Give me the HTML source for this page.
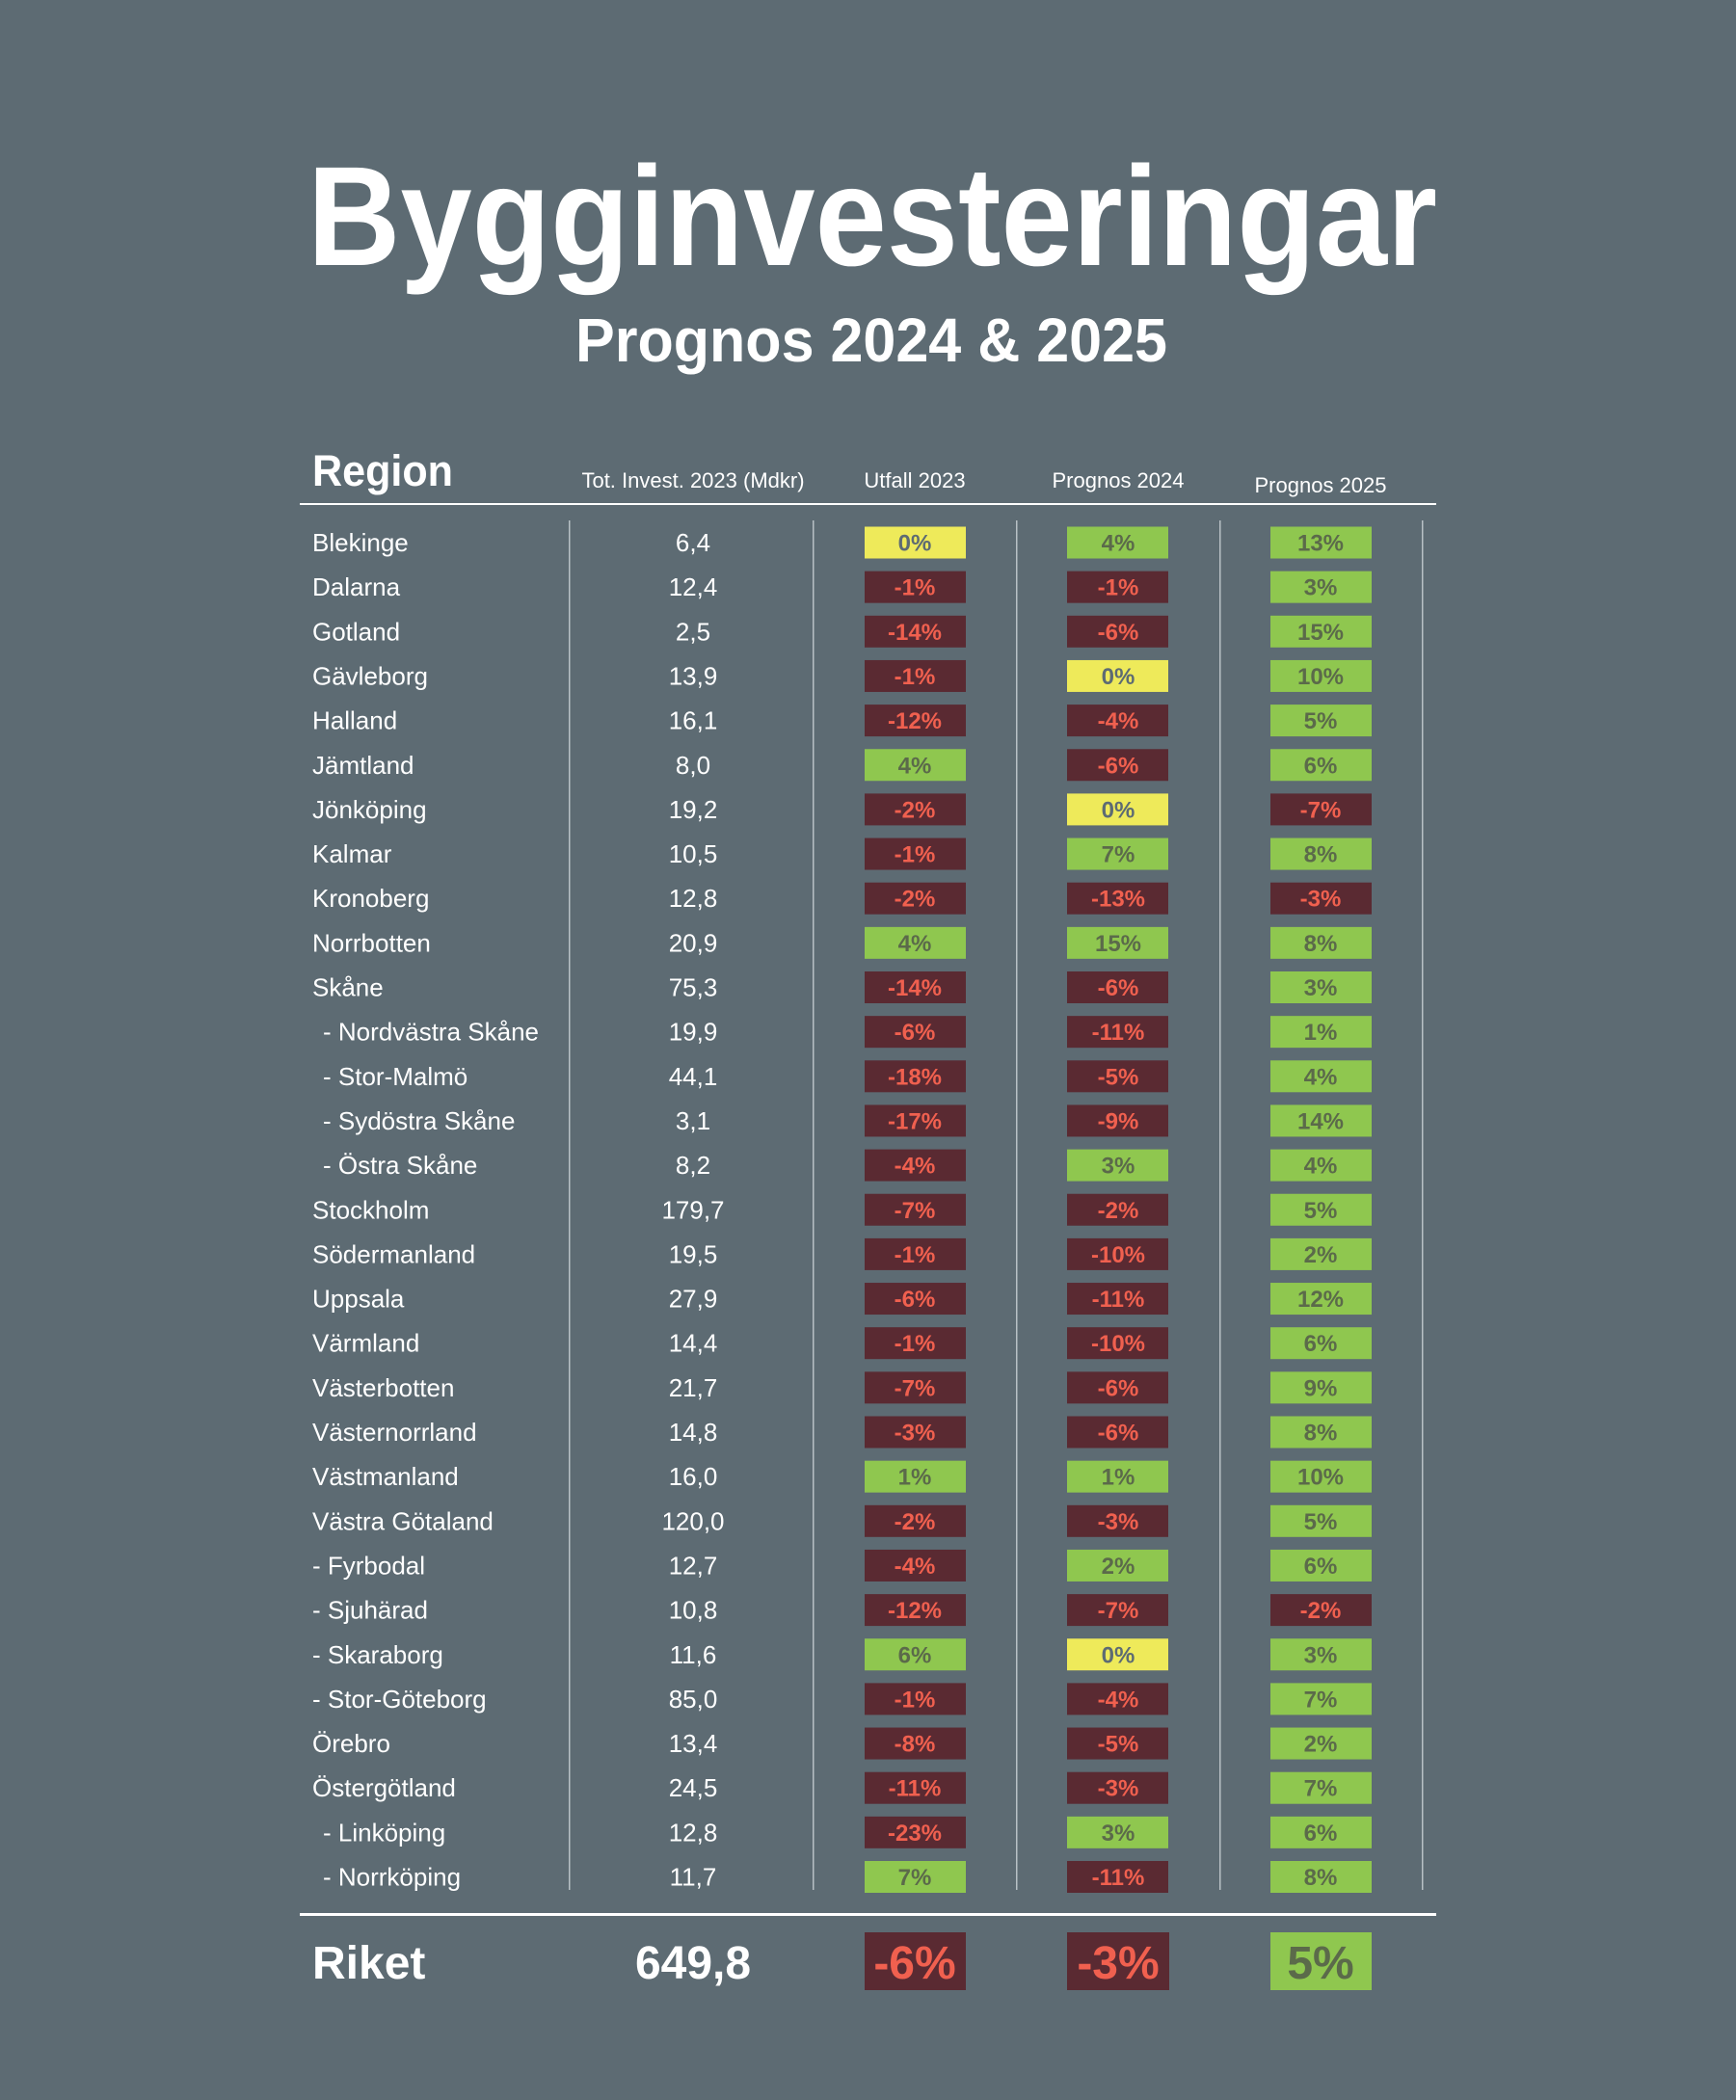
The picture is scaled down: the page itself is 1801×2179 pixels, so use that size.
<!DOCTYPE html>
<html><head><meta charset="utf-8"><style>html,body{margin:0;padding:0;background:#5d6b73}svg{display:block}
.l{fill:#fff;font-size:26px}.v{fill:#fff;font-size:26px;text-anchor:middle}
.P{fill:#8fc74f}.Z{fill:#eeea5a}.N{fill:#5a2a32}
.tp,.tz,.tn{font-size:24px;font-weight:bold;text-anchor:middle}.tp{fill:#5b6a4a}.tz{fill:#5d6b73}.tn{fill:#f0604f}
</style></head>
<body>
<svg width="1801" height="2179" viewBox="0 0 1801 2179" xmlns="http://www.w3.org/2000/svg" font-family="Liberation Sans, sans-serif">
<rect width="1801" height="2179" fill="#5d6b73"/>
<text x="319" y="275" font-size="147" font-weight="bold" fill="#fff" textLength="1172" lengthAdjust="spacingAndGlyphs">Bygginvesteringar</text>
<text x="597" y="375" font-size="64" font-weight="bold" fill="#fff" textLength="614" lengthAdjust="spacingAndGlyphs">Prognos 2024 &amp; 2025</text>
<text x="324" y="504" font-size="45" font-weight="bold" fill="#fff" textLength="146" lengthAdjust="spacingAndGlyphs">Region</text>
<g font-size="22" fill="#fff" text-anchor="middle">
<text x="719" y="506">Tot. Invest. 2023 (Mdkr)</text>
<text x="949" y="506">Utfall 2023</text>
<text x="1160" y="506">Prognos 2024</text>
<text x="1370" y="511">Prognos 2025</text>
</g>
<rect x="311" y="522" width="1179" height="2" fill="#fff"/>
<rect x="311" y="1985" width="1179" height="3" fill="#fff"/>
<g fill="#b8c0c5">
<rect x="590" y="540" width="1.5" height="1421"/>
<rect x="843" y="540" width="1.5" height="1421"/>
<rect x="1054" y="540" width="1.5" height="1421"/>
<rect x="1265" y="540" width="1.5" height="1421"/>
<rect x="1475" y="540" width="1.5" height="1421"/>
</g>

<g transform="translate(0,563)"><text class="l" x="324" y="9">Blekinge</text><text class="v" x="719" y="9">6,4</text><rect class="Z" x="897" y="-16.5" width="105" height="33"/><text class="tz" x="949" y="8.5">0%</text><rect class="P" x="1107" y="-16.5" width="105" height="33"/><text class="tp" x="1160" y="8.5">4%</text><rect class="P" x="1318" y="-16.5" width="105" height="33"/><text class="tp" x="1370" y="8.5">13%</text></g>
<g transform="translate(0,609.15)"><text class="l" x="324" y="9">Dalarna</text><text class="v" x="719" y="9">12,4</text><rect class="N" x="897" y="-16.5" width="105" height="33"/><text class="tn" x="949" y="8.5">-1%</text><rect class="N" x="1107" y="-16.5" width="105" height="33"/><text class="tn" x="1160" y="8.5">-1%</text><rect class="P" x="1318" y="-16.5" width="105" height="33"/><text class="tp" x="1370" y="8.5">3%</text></g>
<g transform="translate(0,655.3)"><text class="l" x="324" y="9">Gotland</text><text class="v" x="719" y="9">2,5</text><rect class="N" x="897" y="-16.5" width="105" height="33"/><text class="tn" x="949" y="8.5">-14%</text><rect class="N" x="1107" y="-16.5" width="105" height="33"/><text class="tn" x="1160" y="8.5">-6%</text><rect class="P" x="1318" y="-16.5" width="105" height="33"/><text class="tp" x="1370" y="8.5">15%</text></g>
<g transform="translate(0,701.45)"><text class="l" x="324" y="9">Gävleborg</text><text class="v" x="719" y="9">13,9</text><rect class="N" x="897" y="-16.5" width="105" height="33"/><text class="tn" x="949" y="8.5">-1%</text><rect class="Z" x="1107" y="-16.5" width="105" height="33"/><text class="tz" x="1160" y="8.5">0%</text><rect class="P" x="1318" y="-16.5" width="105" height="33"/><text class="tp" x="1370" y="8.5">10%</text></g>
<g transform="translate(0,747.6)"><text class="l" x="324" y="9">Halland</text><text class="v" x="719" y="9">16,1</text><rect class="N" x="897" y="-16.5" width="105" height="33"/><text class="tn" x="949" y="8.5">-12%</text><rect class="N" x="1107" y="-16.5" width="105" height="33"/><text class="tn" x="1160" y="8.5">-4%</text><rect class="P" x="1318" y="-16.5" width="105" height="33"/><text class="tp" x="1370" y="8.5">5%</text></g>
<g transform="translate(0,793.75)"><text class="l" x="324" y="9">Jämtland</text><text class="v" x="719" y="9">8,0</text><rect class="P" x="897" y="-16.5" width="105" height="33"/><text class="tp" x="949" y="8.5">4%</text><rect class="N" x="1107" y="-16.5" width="105" height="33"/><text class="tn" x="1160" y="8.5">-6%</text><rect class="P" x="1318" y="-16.5" width="105" height="33"/><text class="tp" x="1370" y="8.5">6%</text></g>
<g transform="translate(0,839.9)"><text class="l" x="324" y="9">Jönköping</text><text class="v" x="719" y="9">19,2</text><rect class="N" x="897" y="-16.5" width="105" height="33"/><text class="tn" x="949" y="8.5">-2%</text><rect class="Z" x="1107" y="-16.5" width="105" height="33"/><text class="tz" x="1160" y="8.5">0%</text><rect class="N" x="1318" y="-16.5" width="105" height="33"/><text class="tn" x="1370" y="8.5">-7%</text></g>
<g transform="translate(0,886.05)"><text class="l" x="324" y="9">Kalmar</text><text class="v" x="719" y="9">10,5</text><rect class="N" x="897" y="-16.5" width="105" height="33"/><text class="tn" x="949" y="8.5">-1%</text><rect class="P" x="1107" y="-16.5" width="105" height="33"/><text class="tp" x="1160" y="8.5">7%</text><rect class="P" x="1318" y="-16.5" width="105" height="33"/><text class="tp" x="1370" y="8.5">8%</text></g>
<g transform="translate(0,932.2)"><text class="l" x="324" y="9">Kronoberg</text><text class="v" x="719" y="9">12,8</text><rect class="N" x="897" y="-16.5" width="105" height="33"/><text class="tn" x="949" y="8.5">-2%</text><rect class="N" x="1107" y="-16.5" width="105" height="33"/><text class="tn" x="1160" y="8.5">-13%</text><rect class="N" x="1318" y="-16.5" width="105" height="33"/><text class="tn" x="1370" y="8.5">-3%</text></g>
<g transform="translate(0,978.35)"><text class="l" x="324" y="9">Norrbotten</text><text class="v" x="719" y="9">20,9</text><rect class="P" x="897" y="-16.5" width="105" height="33"/><text class="tp" x="949" y="8.5">4%</text><rect class="P" x="1107" y="-16.5" width="105" height="33"/><text class="tp" x="1160" y="8.5">15%</text><rect class="P" x="1318" y="-16.5" width="105" height="33"/><text class="tp" x="1370" y="8.5">8%</text></g>
<g transform="translate(0,1024.5)"><text class="l" x="324" y="9">Skåne</text><text class="v" x="719" y="9">75,3</text><rect class="N" x="897" y="-16.5" width="105" height="33"/><text class="tn" x="949" y="8.5">-14%</text><rect class="N" x="1107" y="-16.5" width="105" height="33"/><text class="tn" x="1160" y="8.5">-6%</text><rect class="P" x="1318" y="-16.5" width="105" height="33"/><text class="tp" x="1370" y="8.5">3%</text></g>
<g transform="translate(0,1070.65)"><text class="l" x="335" y="9">- Nordvästra Skåne</text><text class="v" x="719" y="9">19,9</text><rect class="N" x="897" y="-16.5" width="105" height="33"/><text class="tn" x="949" y="8.5">-6%</text><rect class="N" x="1107" y="-16.5" width="105" height="33"/><text class="tn" x="1160" y="8.5">-11%</text><rect class="P" x="1318" y="-16.5" width="105" height="33"/><text class="tp" x="1370" y="8.5">1%</text></g>
<g transform="translate(0,1116.8)"><text class="l" x="335" y="9">- Stor-Malmö</text><text class="v" x="719" y="9">44,1</text><rect class="N" x="897" y="-16.5" width="105" height="33"/><text class="tn" x="949" y="8.5">-18%</text><rect class="N" x="1107" y="-16.5" width="105" height="33"/><text class="tn" x="1160" y="8.5">-5%</text><rect class="P" x="1318" y="-16.5" width="105" height="33"/><text class="tp" x="1370" y="8.5">4%</text></g>
<g transform="translate(0,1162.95)"><text class="l" x="335" y="9">- Sydöstra Skåne</text><text class="v" x="719" y="9">3,1</text><rect class="N" x="897" y="-16.5" width="105" height="33"/><text class="tn" x="949" y="8.5">-17%</text><rect class="N" x="1107" y="-16.5" width="105" height="33"/><text class="tn" x="1160" y="8.5">-9%</text><rect class="P" x="1318" y="-16.5" width="105" height="33"/><text class="tp" x="1370" y="8.5">14%</text></g>
<g transform="translate(0,1209.1)"><text class="l" x="335" y="9">- Östra Skåne</text><text class="v" x="719" y="9">8,2</text><rect class="N" x="897" y="-16.5" width="105" height="33"/><text class="tn" x="949" y="8.5">-4%</text><rect class="P" x="1107" y="-16.5" width="105" height="33"/><text class="tp" x="1160" y="8.5">3%</text><rect class="P" x="1318" y="-16.5" width="105" height="33"/><text class="tp" x="1370" y="8.5">4%</text></g>
<g transform="translate(0,1255.25)"><text class="l" x="324" y="9">Stockholm</text><text class="v" x="719" y="9">179,7</text><rect class="N" x="897" y="-16.5" width="105" height="33"/><text class="tn" x="949" y="8.5">-7%</text><rect class="N" x="1107" y="-16.5" width="105" height="33"/><text class="tn" x="1160" y="8.5">-2%</text><rect class="P" x="1318" y="-16.5" width="105" height="33"/><text class="tp" x="1370" y="8.5">5%</text></g>
<g transform="translate(0,1301.4)"><text class="l" x="324" y="9">Södermanland</text><text class="v" x="719" y="9">19,5</text><rect class="N" x="897" y="-16.5" width="105" height="33"/><text class="tn" x="949" y="8.5">-1%</text><rect class="N" x="1107" y="-16.5" width="105" height="33"/><text class="tn" x="1160" y="8.5">-10%</text><rect class="P" x="1318" y="-16.5" width="105" height="33"/><text class="tp" x="1370" y="8.5">2%</text></g>
<g transform="translate(0,1347.55)"><text class="l" x="324" y="9">Uppsala</text><text class="v" x="719" y="9">27,9</text><rect class="N" x="897" y="-16.5" width="105" height="33"/><text class="tn" x="949" y="8.5">-6%</text><rect class="N" x="1107" y="-16.5" width="105" height="33"/><text class="tn" x="1160" y="8.5">-11%</text><rect class="P" x="1318" y="-16.5" width="105" height="33"/><text class="tp" x="1370" y="8.5">12%</text></g>
<g transform="translate(0,1393.7)"><text class="l" x="324" y="9">Värmland</text><text class="v" x="719" y="9">14,4</text><rect class="N" x="897" y="-16.5" width="105" height="33"/><text class="tn" x="949" y="8.5">-1%</text><rect class="N" x="1107" y="-16.5" width="105" height="33"/><text class="tn" x="1160" y="8.5">-10%</text><rect class="P" x="1318" y="-16.5" width="105" height="33"/><text class="tp" x="1370" y="8.5">6%</text></g>
<g transform="translate(0,1439.85)"><text class="l" x="324" y="9">Västerbotten</text><text class="v" x="719" y="9">21,7</text><rect class="N" x="897" y="-16.5" width="105" height="33"/><text class="tn" x="949" y="8.5">-7%</text><rect class="N" x="1107" y="-16.5" width="105" height="33"/><text class="tn" x="1160" y="8.5">-6%</text><rect class="P" x="1318" y="-16.5" width="105" height="33"/><text class="tp" x="1370" y="8.5">9%</text></g>
<g transform="translate(0,1486)"><text class="l" x="324" y="9">Västernorrland</text><text class="v" x="719" y="9">14,8</text><rect class="N" x="897" y="-16.5" width="105" height="33"/><text class="tn" x="949" y="8.5">-3%</text><rect class="N" x="1107" y="-16.5" width="105" height="33"/><text class="tn" x="1160" y="8.5">-6%</text><rect class="P" x="1318" y="-16.5" width="105" height="33"/><text class="tp" x="1370" y="8.5">8%</text></g>
<g transform="translate(0,1532.15)"><text class="l" x="324" y="9">Västmanland</text><text class="v" x="719" y="9">16,0</text><rect class="P" x="897" y="-16.5" width="105" height="33"/><text class="tp" x="949" y="8.5">1%</text><rect class="P" x="1107" y="-16.5" width="105" height="33"/><text class="tp" x="1160" y="8.5">1%</text><rect class="P" x="1318" y="-16.5" width="105" height="33"/><text class="tp" x="1370" y="8.5">10%</text></g>
<g transform="translate(0,1578.3)"><text class="l" x="324" y="9">Västra Götaland</text><text class="v" x="719" y="9">120,0</text><rect class="N" x="897" y="-16.5" width="105" height="33"/><text class="tn" x="949" y="8.5">-2%</text><rect class="N" x="1107" y="-16.5" width="105" height="33"/><text class="tn" x="1160" y="8.5">-3%</text><rect class="P" x="1318" y="-16.5" width="105" height="33"/><text class="tp" x="1370" y="8.5">5%</text></g>
<g transform="translate(0,1624.45)"><text class="l" x="324" y="9">- Fyrbodal</text><text class="v" x="719" y="9">12,7</text><rect class="N" x="897" y="-16.5" width="105" height="33"/><text class="tn" x="949" y="8.5">-4%</text><rect class="P" x="1107" y="-16.5" width="105" height="33"/><text class="tp" x="1160" y="8.5">2%</text><rect class="P" x="1318" y="-16.5" width="105" height="33"/><text class="tp" x="1370" y="8.5">6%</text></g>
<g transform="translate(0,1670.6)"><text class="l" x="324" y="9">- Sjuhärad</text><text class="v" x="719" y="9">10,8</text><rect class="N" x="897" y="-16.5" width="105" height="33"/><text class="tn" x="949" y="8.5">-12%</text><rect class="N" x="1107" y="-16.5" width="105" height="33"/><text class="tn" x="1160" y="8.5">-7%</text><rect class="N" x="1318" y="-16.5" width="105" height="33"/><text class="tn" x="1370" y="8.5">-2%</text></g>
<g transform="translate(0,1716.75)"><text class="l" x="324" y="9">- Skaraborg</text><text class="v" x="719" y="9">11,6</text><rect class="P" x="897" y="-16.5" width="105" height="33"/><text class="tp" x="949" y="8.5">6%</text><rect class="Z" x="1107" y="-16.5" width="105" height="33"/><text class="tz" x="1160" y="8.5">0%</text><rect class="P" x="1318" y="-16.5" width="105" height="33"/><text class="tp" x="1370" y="8.5">3%</text></g>
<g transform="translate(0,1762.9)"><text class="l" x="324" y="9">- Stor-Göteborg</text><text class="v" x="719" y="9">85,0</text><rect class="N" x="897" y="-16.5" width="105" height="33"/><text class="tn" x="949" y="8.5">-1%</text><rect class="N" x="1107" y="-16.5" width="105" height="33"/><text class="tn" x="1160" y="8.5">-4%</text><rect class="P" x="1318" y="-16.5" width="105" height="33"/><text class="tp" x="1370" y="8.5">7%</text></g>
<g transform="translate(0,1809.05)"><text class="l" x="324" y="9">Örebro</text><text class="v" x="719" y="9">13,4</text><rect class="N" x="897" y="-16.5" width="105" height="33"/><text class="tn" x="949" y="8.5">-8%</text><rect class="N" x="1107" y="-16.5" width="105" height="33"/><text class="tn" x="1160" y="8.5">-5%</text><rect class="P" x="1318" y="-16.5" width="105" height="33"/><text class="tp" x="1370" y="8.5">2%</text></g>
<g transform="translate(0,1855.2)"><text class="l" x="324" y="9">Östergötland</text><text class="v" x="719" y="9">24,5</text><rect class="N" x="897" y="-16.5" width="105" height="33"/><text class="tn" x="949" y="8.5">-11%</text><rect class="N" x="1107" y="-16.5" width="105" height="33"/><text class="tn" x="1160" y="8.5">-3%</text><rect class="P" x="1318" y="-16.5" width="105" height="33"/><text class="tp" x="1370" y="8.5">7%</text></g>
<g transform="translate(0,1901.35)"><text class="l" x="335" y="9">- Linköping</text><text class="v" x="719" y="9">12,8</text><rect class="N" x="897" y="-16.5" width="105" height="33"/><text class="tn" x="949" y="8.5">-23%</text><rect class="P" x="1107" y="-16.5" width="105" height="33"/><text class="tp" x="1160" y="8.5">3%</text><rect class="P" x="1318" y="-16.5" width="105" height="33"/><text class="tp" x="1370" y="8.5">6%</text></g>
<g transform="translate(0,1947.5)"><text class="l" x="335" y="9">- Norrköping</text><text class="v" x="719" y="9">11,7</text><rect class="P" x="897" y="-16.5" width="105" height="33"/><text class="tp" x="949" y="8.5">7%</text><rect class="N" x="1107" y="-16.5" width="105" height="33"/><text class="tn" x="1160" y="8.5">-11%</text><rect class="P" x="1318" y="-16.5" width="105" height="33"/><text class="tp" x="1370" y="8.5">8%</text></g>

<text x="324" y="2053" font-size="48" font-weight="bold" fill="#fff">Riket</text>
<text x="719" y="2053" font-size="48" font-weight="bold" fill="#fff" text-anchor="middle">649,8</text>
<rect x="897" y="2005" width="105" height="60" fill="#5a2a32"/>
<rect x="1107" y="2005" width="106" height="60" fill="#5a2a32"/>
<rect x="1318" y="2005" width="105" height="60" fill="#8fc74f"/>
<g font-size="48" font-weight="bold" text-anchor="middle">
<text x="949" y="2053" fill="#f0604f">-6%</text>
<text x="1160" y="2053" fill="#f0604f">-3%</text>
<text x="1370" y="2053" fill="#5b6a4a">5%</text>
</g>
</svg>
</body></html>
